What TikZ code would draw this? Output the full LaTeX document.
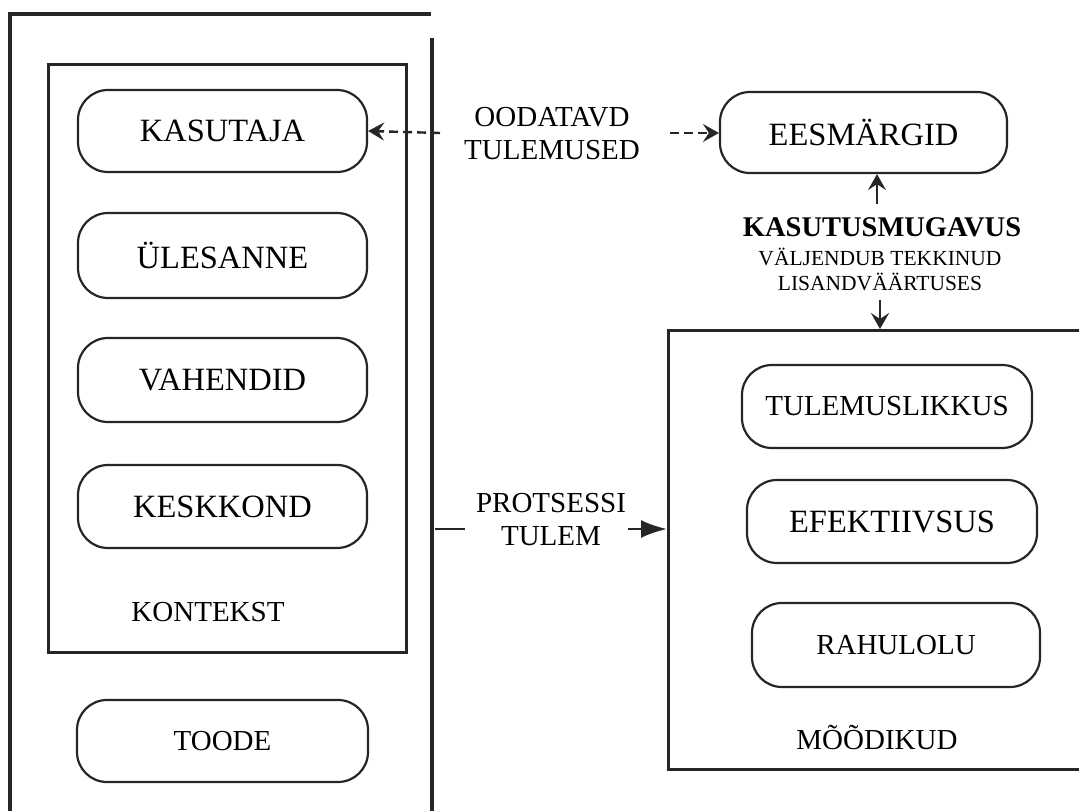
\documentclass[tikz,border=0pt]{standalone}
\usepackage{fontspec}
\setmainfont{Liberation Serif}
\usetikzlibrary{arrows.meta}
\tikzset{
  pill/.style={draw=black!85, line width=2.2pt, rounded corners=30pt, inner sep=0pt, align=center},
  bigtxt/.style={font=\fontsize{32.5}{36}\selectfont},
  midtxt/.style={font=\fontsize{29}{33}\selectfont},
  frame/.style={draw=black!85, line width=3pt},
  lbl/.style={inner sep=0pt, align=center},
  tip/.style={-{Stealth[length=16pt,width=18pt,inset=6pt]}, line width=2.4pt, draw=black!85},
  dashtip/.style={tip, dash pattern=on 9pt off 5pt}
}
\begin{document}
\begin{tikzpicture}[x=1pt,y=-1pt]
\clip (0,0) rectangle (1079,811);
\fill[white] (0,0) rectangle (1079,811);
% outer left frame
\draw[frame, line width=4pt] (10,830) -- (10,14) -- (431,14);
\draw[frame, line width=4pt] (432,38) -- (432,830);
% inner context frame
\draw[frame] (48,64) rectangle (406,652);
% right frame
\draw[frame] (1100,330) -- (668,330) -- (668,769) -- (1100,769);

% left boxes
\node[pill, bigtxt, minimum width=289pt, minimum height=82pt] (kas) at (222.5,131) {KASUTAJA};
\node[pill, bigtxt, minimum width=289pt, minimum height=85pt] (ules) at (222.5,255.5) {ÜLESANNE};
\node[pill, bigtxt, minimum width=289pt, minimum height=84pt] (vah) at (222.5,380) {VAHENDID};
\node[pill, bigtxt, minimum width=289pt, minimum height=83pt] (kesk) at (222.5,506.5) {KESKKOND};
\node[lbl, midtxt] (kont) at (208,612) {KONTEKST};
\node[pill, midtxt, minimum width=291pt, minimum height=82pt] (toode) at (222.5,741) {TOODE};

% right boxes
\node[pill, bigtxt, minimum width=287pt, minimum height=81pt] (ees) at (863.5,132.5) {EESMÄRGID};
\node[pill, midtxt, minimum width=290pt, minimum height=83pt] (tul) at (887,406.5) {TULEMUSLIKKUS};
\node[pill, bigtxt, minimum width=290pt, minimum height=83pt] (efe) at (892,521.5) {EFEKTIIVSUS};
\node[pill, midtxt, minimum width=288pt, minimum height=84pt] (rah) at (896,645) {RAHULOLU};
\node[lbl, midtxt] (mood) at (877,737) {MÕÕDIKUD};

% labels
\node[lbl, midtxt] (ood) at (552,134) {OODATAVD\\TULEMUSED};
\node[lbl, midtxt] (prot) at (551,520) {PROTSESSI\\TULEM};
\node[lbl, font=\fontsize{28.5}{30}\selectfont\bfseries] (kmug) at (882,227) {KASUTUSMUGAVUS};
\node[lbl, font=\fontsize{21.5}{25}\selectfont] (valj) at (880,269.5) {VÄLJENDUB TEKKINUD\\LISANDVÄÄRTUSES};

% connectors
\coordinate (d1) at (440,133);
\coordinate (d2) at (670,133);
\draw[dashtip] (d1) -- (kas.east);
\draw[dashtip] (d2) -- (ees.west |- d2);
\coordinate (u1) at (877,204);
\draw[tip] (u1) -- (u1 |- ees.south);
\coordinate (v1) at (880,300);
\coordinate (v2) at (880,329);
\draw[tip] (v1) -- (v2);
\coordinate (p1) at (435,529);
\coordinate (p2) at (465,529);
\draw[line width=2.4pt, draw=black!85] (p1) -- (p2);
\coordinate (p3) at (628,529);
\coordinate (p4) at (667,529);
\draw[-{Latex[length=26pt,width=18pt]}, line width=2.6pt, draw=black!85] (p3) -- (p4);
\end{tikzpicture}
\end{document}
